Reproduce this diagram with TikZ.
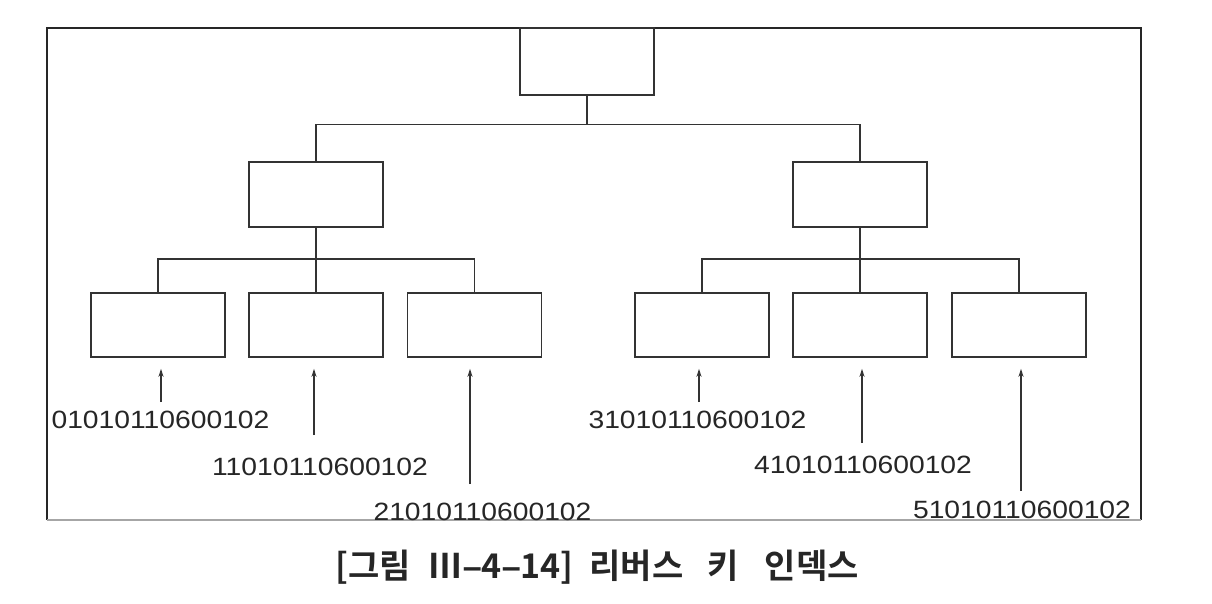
\documentclass[tikz,border=0pt]{standalone}
\usepackage{fontspec}
\setmainfont{Liberation Sans}
\newfontfamily\labfont[FakeStretch=1.13]{Liberation Sans}
\newfontfamily\capfont{Noto Sans CJK KR Bold}
\newfontfamily\dashfont{Liberation Sans}
\usetikzlibrary{arrows.meta}
\begin{document}
\begin{tikzpicture}[x=1pt,y=-1pt,
  box/.style={draw=black!80,line width=1.6pt,minimum width=134pt,inner sep=0pt},
  conn/.style={draw=black!80,line width=1.4pt},
  arr/.style={draw=black!80,line width=1.3pt,-{Stealth[length=8pt,width=5pt]}},
  lab/.style={inner sep=0pt,font=\labfont\fontsize{25pt}{25pt}\selectfont,text=black!85},
  framel/.style={draw=black!85,line width=1.3pt}]
\useasboundingbox (0,0) rectangle (1212,604);
% frame
\coordinate (f1) at (47,28);
\coordinate (f2) at (1141,28);
\coordinate (f3) at (1141,520);
\coordinate (f4) at (47,520);
\draw[framel] (f4) -- (f1) -- (f2) -- (f3);
\draw[draw=black!35,line width=1.1pt] (f4) -- (f3);
% boxes
\node[box,minimum height=67pt] (root) at (587,61.5) {};
\node[box,minimum height=65pt] (m1) at (316,194.5) {};
\node[box,minimum height=65pt] (m2) at (860,194.5) {};
\node[box,minimum height=64pt] (a) at (158,325) {};
\node[box,minimum height=64pt] (b) at (316,325) {};
\node[box,minimum height=64pt] (c) at (474.5,325) {};
\node[box,minimum height=64pt] (d) at (702,325) {};
\node[box,minimum height=64pt] (e) at (860,325) {};
\node[box,minimum height=64pt] (f) at (1019,325) {};
% connectors
\draw[conn] (root.south) -- ++(0,29) -| (m1.north);
\draw[conn] (root.south) ++(0,29) -| (m2.north);
\draw[conn] (m1.south) -- ++(0,31) -| (a.north);
\draw[conn] (m1.south) -- (b.north);
\draw[conn] (m1.south) ++(0,31) -| (c.north);
\draw[conn] (m2.south) -- ++(0,31) -| (d.north);
\draw[conn] (m2.south) -- (e.north);
\draw[conn] (m2.south) ++(0,31) -| (f.north);
% labels
\node[lab] (la) at (160.5,420) {01010110600102};
\node[lab] (lb) at (320,467) {11010110600102};
\node[lab] (lc) at (482.5,512) {21010110600102};
\node[lab] (ld) at (697.5,420) {31010110600102};
\node[lab] (le) at (863,465) {41010110600102};
\node[lab] (lf) at (1022,510) {51010110600102};
% arrows
\coordinate (ta) at (161,402);
\coordinate (tb) at (314,435);
\coordinate (tc) at (470,484);
\coordinate (td) at (699,402);
\coordinate (te) at (862,443);
\coordinate (tf) at (1021,491);
\draw[arr,shorten >=11pt] (ta) -- (ta |- a.south);
\draw[arr,shorten >=11pt] (tb) -- (tb |- b.south);
\draw[arr,shorten >=11pt] (tc) -- (tc |- c.south);
\draw[arr,shorten >=11pt] (td) -- (td |- d.south);
\draw[arr,shorten >=11pt] (te) -- (te |- e.south);
\draw[arr,shorten >=11pt] (tf) -- (tf |- f.south);
% caption
\node[inner sep=0pt,font=\capfont\fontsize{34pt}{34pt}\selectfont,text=black!85] (cap) at (597,567) {[그림\hspace{18pt}Ⅲ{\dashfont\bfseries –}4{\dashfont\bfseries –}14]\hspace{16pt}리버스\hspace{24pt}키\hspace{26pt}인덱스};
\end{tikzpicture}
\end{document}
